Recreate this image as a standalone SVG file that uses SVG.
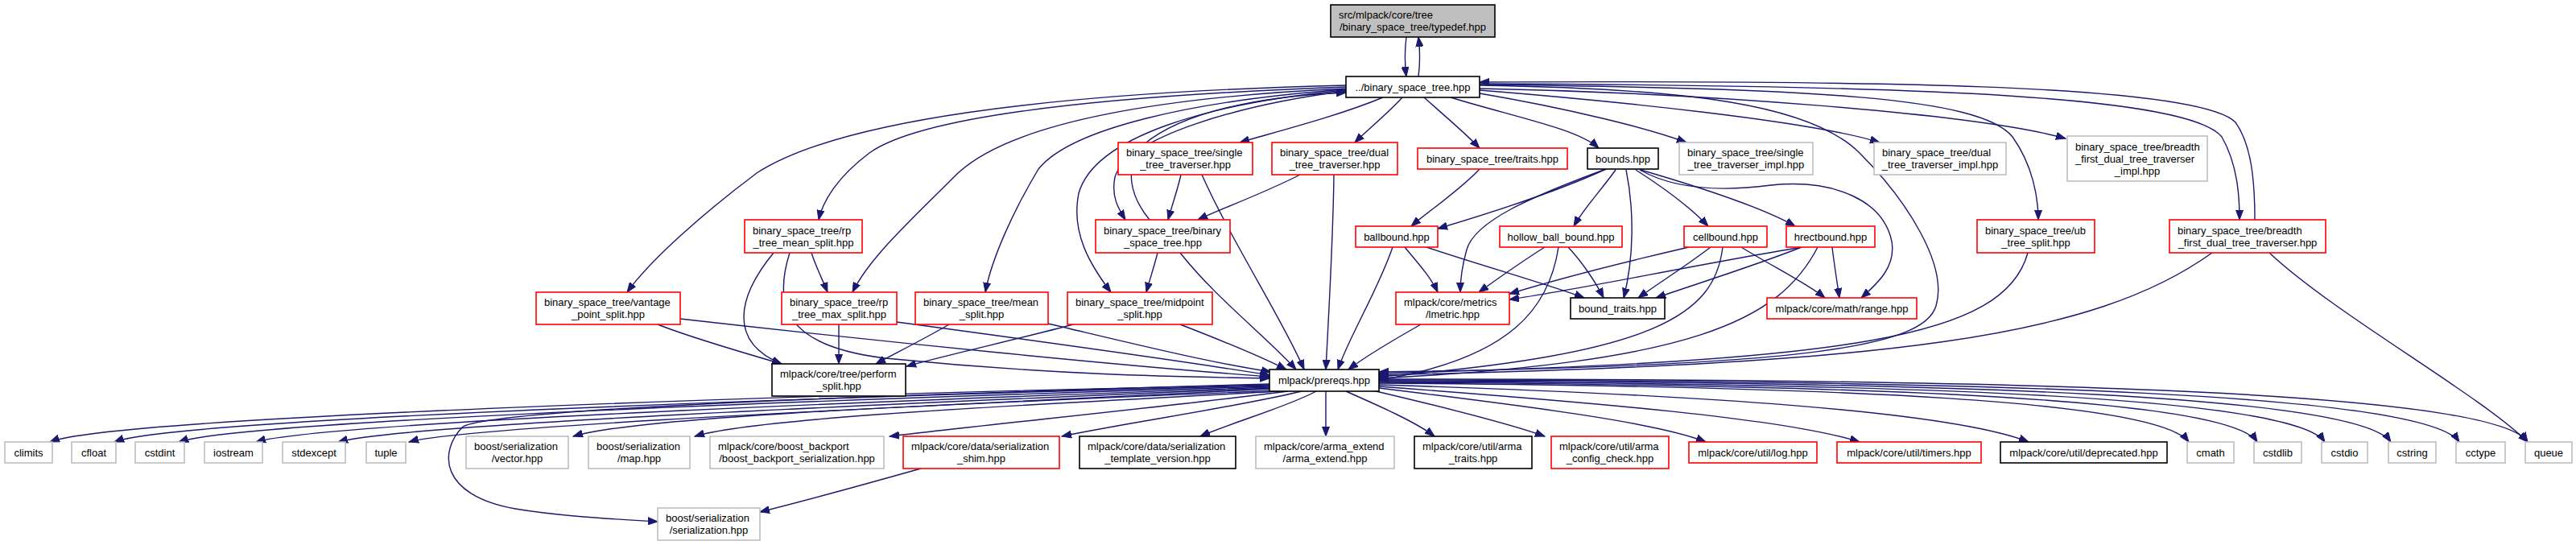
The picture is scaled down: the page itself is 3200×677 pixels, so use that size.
<svg xmlns="http://www.w3.org/2000/svg" width="3200" height="677" viewBox="0 0 3200 677">
<style>
rect{fill:#fff;stroke-width:1.6}
.r{stroke:#ff0000}.k{stroke:#000}.g{stroke:#bfbfbf}.root{fill:#bfbfbf;stroke:#000}
text{font-family:"Liberation Sans",Arial,sans-serif;font-size:13px;fill:#000}
.m{text-anchor:middle}
#edges path{fill:none;stroke:#191970;stroke-width:1.4;marker-end:url(#ah)}
</style>
<defs><marker id="ah" markerUnits="userSpaceOnUse" markerWidth="14" markerHeight="10" refX="12" refY="5" orient="auto"><path d="M0,0.5 L12,5 L0,9.5 z" fill="#191970" stroke="#191970" stroke-width="1"/></marker></defs>
<rect x="0" y="0" width="3200" height="677" style="fill:#fff;stroke:none"/>
<g id="edges">
<path d="M1747,46 C1745,62 1745,80 1747,95"/>
<path d="M1762,95 C1764,80 1764,62 1762,46"/>
<path d="M1718,121 C1660,145 1580,165 1540,177"/>
<path d="M1742,121 C1725,140 1700,160 1683,177"/>
<path d="M1769,121 C1790,140 1820,165 1838,184"/>
<path d="M1802,121 C1880,145 1960,160 1986,184"/>
<path d="M1838,116 C1950,135 2050,160 2095,177"/>
<path d="M1838,112 C2000,125 2250,150 2335,177"/>
<path d="M1838,110 C2100,115 2450,140 2566,172"/>
<path d="M1672,106 C1300,115 1040,150 940,215 C880,260 810,320 779,363"/>
<path d="M1672,108 C1400,118 1150,140 1080,190 C1040,220 1022,250 1017,273"/>
<path d="M1672,110 C1450,120 1260,150 1190,215 C1130,275 1080,320 1059,363"/>
<path d="M1672,111 C1480,125 1330,160 1290,210 C1260,260 1232,320 1224,363"/>
<path d="M1672,112 C1500,128 1360,170 1340,240 C1330,290 1355,330 1380,363"/>
<path d="M1672,113 C1540,130 1400,170 1385,220 C1380,245 1390,260 1398,273"/>
<path d="M1428,273 C1405,245 1395,210 1420,180 C1480,130 1600,118 1672,115"/>
<path d="M1467,217 C1463,235 1456,255 1451,273"/>
<path d="M1493,217 C1530,300 1595,400 1620,459"/>
<path d="M1615,217 C1570,240 1520,258 1488,273"/>
<path d="M1657,217 C1656,300 1650,400 1647,459"/>
<path d="M1438,314 C1434,330 1428,348 1424,363"/>
<path d="M1466,314 C1510,370 1575,420 1610,459"/>
<path d="M1838,210 C1815,235 1775,262 1753,281"/>
<path d="M1730,307 C1712,360 1675,420 1662,459"/>
<path d="M1745,307 C1760,325 1778,345 1786,363"/>
<path d="M1772,307 C1840,330 1920,352 1968,370"/>
<path d="M1919,307 C1890,325 1858,348 1837,363"/>
<path d="M1948,307 C1965,325 1982,350 1992,370"/>
<path d="M1936,307 C1925,380 1880,445 1713,472"/>
<path d="M1765,403 C1735,420 1700,440 1675,459"/>
<path d="M1995,210 C1930,240 1850,265 1786,284"/>
<path d="M1995,210 C1900,245 1832,275 1822,310 C1815,335 1814,350 1814,363"/>
<path d="M2007,211 C1990,235 1968,258 1955,281"/>
<path d="M2020,211 C2030,260 2030,320 2017,370"/>
<path d="M2032,211 C2065,232 2100,258 2122,281"/>
<path d="M2038,211 C2110,232 2190,258 2230,281"/>
<path d="M2037,211 C2080,235 2140,238 2200,230 C2280,222 2340,250 2350,300 C2355,330 2335,350 2312,370"/>
<path d="M2098,307 C2020,325 1940,345 1875,365"/>
<path d="M2125,307 C2095,330 2060,352 2035,370"/>
<path d="M2140,307 C2130,390 2060,440 1713,468"/>
<path d="M2163,307 C2200,330 2245,352 2267,370"/>
<path d="M2238,307 C2100,330 1960,360 1875,372"/>
<path d="M2238,307 C2180,330 2100,355 2057,370"/>
<path d="M2276,307 C2278,325 2282,350 2285,370"/>
<path d="M2258,307 C2210,400 2100,450 1713,470"/>
<path d="M2519,314 C2490,420 2300,448 1713,464"/>
<path d="M2748,314 C2600,420 2350,452 1713,466"/>
<path d="M2819,314 C2900,390 3080,490 3140,549"/>
<path d="M1838,106 C2100,110 2250,130 2310,190 C2370,250 2420,330 2405,380 C2390,430 2250,455 1713,462"/>
<path d="M1838,105 C2250,110 2460,120 2500,170 C2525,205 2532,245 2532,273"/>
<path d="M1838,104 C2400,106 2720,120 2760,170 C2780,205 2782,245 2782,273"/>
<path d="M2801,273 C2801,225 2797,180 2777,152 C2730,103 2300,100 1838,102"/>
<path d="M1008,314 C1013,330 1022,348 1028,363"/>
<path d="M961,314 C915,370 905,425 971,452"/>
<path d="M981,314 C960,380 975,430 1100,445 C1300,465 1450,468 1577,470"/>
<path d="M817,403 C860,420 930,440 971,452"/>
<path d="M845,396 C1100,425 1400,455 1577,468"/>
<path d="M1042,403 L1042,452"/>
<path d="M1114,400 C1300,425 1480,450 1577,466"/>
<path d="M1179,403 C1150,420 1110,440 1088,452"/>
<path d="M1302,402 C1400,425 1500,450 1579,462"/>
<path d="M1333,403 C1270,420 1180,440 1126,455"/>
<path d="M1466,403 C1510,420 1570,445 1598,459"/>
<path d="M1577,478 C1000,490 140,518 62,549"/>
<path d="M1577,479 C1050,492 220,520 142,549"/>
<path d="M1577,480 C1100,494 300,522 222,549"/>
<path d="M1578,481 C1150,496 400,524 318,549"/>
<path d="M1579,482 C1200,498 500,526 420,549"/>
<path d="M1580,483 C1250,500 580,528 508,549"/>
<path d="M1585,485 C1250,500 800,515 712,542"/>
<path d="M1590,486 C1300,502 940,518 863,542"/>
<path d="M1600,486 C1450,505 1250,525 1105,542"/>
<path d="M1577,477 C1200,488 620,505 575,530 C545,560 545,615 640,632 C700,642 770,645 817,648"/>
<path d="M1617,486 C1540,505 1400,525 1319,542"/>
<path d="M1635,486 C1600,505 1530,525 1491,542"/>
<path d="M1647,486 L1647,542"/>
<path d="M1672,486 C1715,505 1760,525 1782,542"/>
<path d="M1705,485 C1790,505 1880,528 1919,542"/>
<path d="M1713,482 C1900,505 2060,525 2119,549"/>
<path d="M1713,480 C1980,500 2220,520 2310,549"/>
<path d="M1713,478 C2100,490 2420,510 2520,549"/>
<path d="M1713,476 C2300,480 2680,498 2719,549"/>
<path d="M1713,475 C2350,478 2770,496 2804,549"/>
<path d="M1713,474 C2400,476 2850,494 2888,549"/>
<path d="M1713,473 C2450,474 2930,492 2970,549"/>
<path d="M1713,472 C2500,472 3015,490 3055,549"/>
<path d="M1713,471 C2550,470 3100,488 3140,549"/>
<path d="M1144,582 C1080,600 1000,622 944,636"/>
</g>
<g id="n_root"><rect class="root" x="1653" y="6" width="204" height="40"/><text x="1663" y="23">src/mlpack/core/tree</text><text class="m" x="1755" y="38">/binary_space_tree/typedef.hpp</text></g>
<g id="n_bst"><rect class="k" x="1672" y="95" width="166" height="26"/><text class="m" x="1755" y="112.5">../binary_space_tree.hpp</text></g>
<g id="n_single"><rect class="r" x="1389" y="177" width="167" height="40"/><text x="1399" y="194">binary_space_tree/single</text><text class="m" x="1472.5" y="209">_tree_traverser.hpp</text></g>
<g id="n_dual"><rect class="r" x="1580" y="177" width="156" height="40"/><text x="1590" y="194">binary_space_tree/dual</text><text class="m" x="1658" y="209">_tree_traverser.hpp</text></g>
<g id="n_traits"><rect class="r" x="1761" y="184" width="186" height="26"/><text class="m" x="1854" y="201.5">binary_space_tree/traits.hpp</text></g>
<g id="n_bounds"><rect class="k" x="1972" y="184" width="88" height="26"/><text class="m" x="2016" y="201.5">bounds.hpp</text></g>
<g id="n_single_impl"><rect class="g" x="2086" y="177" width="166" height="40"/><text x="2096" y="194">binary_space_tree/single</text><text class="m" x="2169" y="209">_tree_traverser_impl.hpp</text></g>
<g id="n_dual_impl"><rect class="g" x="2328" y="177" width="164" height="40"/><text x="2338" y="194">binary_space_tree/dual</text><text class="m" x="2410" y="209">_tree_traverser_impl.hpp</text></g>
<g id="n_bf_impl"><rect class="g" x="2568" y="169" width="174" height="56"/><text x="2578" y="186.5">binary_space_tree/breadth</text><text x="2578" y="201.5">_first_dual_tree_traverser</text><text class="m" x="2655" y="216.5">_impl.hpp</text></g>
<g id="n_rpmean"><rect class="r" x="925" y="273" width="146" height="41"/><text x="935" y="290.5">binary_space_tree/rp</text><text class="m" x="998" y="305.5">_tree_mean_split.hpp</text></g>
<g id="n_bstbst"><rect class="r" x="1361" y="273" width="167" height="41"/><text x="1371" y="290.5">binary_space_tree/binary</text><text class="m" x="1444.5" y="305.5">_space_tree.hpp</text></g>
<g id="n_ballbound"><rect class="r" x="1684" y="281" width="102" height="26"/><text class="m" x="1735" y="298.5">ballbound.hpp</text></g>
<g id="n_hollow"><rect class="r" x="1863" y="281" width="152" height="26"/><text class="m" x="1939" y="298.5">hollow_ball_bound.hpp</text></g>
<g id="n_cellbound"><rect class="r" x="2092" y="281" width="103" height="26"/><text class="m" x="2143.5" y="298.5">cellbound.hpp</text></g>
<g id="n_hrect"><rect class="r" x="2219" y="281" width="110" height="26"/><text class="m" x="2274" y="298.5">hrectbound.hpp</text></g>
<g id="n_ub"><rect class="r" x="2456" y="273" width="146" height="41"/><text x="2466" y="290.5">binary_space_tree/ub</text><text class="m" x="2529" y="305.5">_tree_split.hpp</text></g>
<g id="n_bf"><rect class="r" x="2695" y="273" width="194" height="41"/><text x="2705" y="290.5">binary_space_tree/breadth</text><text class="m" x="2792" y="305.5">_first_dual_tree_traverser.hpp</text></g>
<g id="n_vantage"><rect class="r" x="666" y="363" width="179" height="40"/><text x="676" y="380">binary_space_tree/vantage</text><text class="m" x="755.5" y="395">_point_split.hpp</text></g>
<g id="n_rpmax"><rect class="r" x="971" y="363" width="143" height="40"/><text x="981" y="380">binary_space_tree/rp</text><text class="m" x="1042.5" y="395">_tree_max_split.hpp</text></g>
<g id="n_mean"><rect class="r" x="1137" y="363" width="165" height="40"/><text x="1147" y="380">binary_space_tree/mean</text><text class="m" x="1219.5" y="395">_split.hpp</text></g>
<g id="n_midpoint"><rect class="r" x="1326" y="363" width="180" height="40"/><text x="1336" y="380">binary_space_tree/midpoint</text><text class="m" x="1416" y="395">_split.hpp</text></g>
<g id="n_lmetric"><rect class="r" x="1734" y="363" width="141" height="40"/><text x="1744" y="380">mlpack/core/metrics</text><text class="m" x="1804.5" y="395">/lmetric.hpp</text></g>
<g id="n_boundtraits"><rect class="k" x="1951" y="370" width="117" height="26"/><text class="m" x="2009.5" y="387.5">bound_traits.hpp</text></g>
<g id="n_range"><rect class="r" x="2195" y="370" width="186" height="26"/><text class="m" x="2288" y="387.5">mlpack/core/math/range.hpp</text></g>
<g id="n_perform"><rect class="k" x="959" y="452" width="166" height="40"/><text x="969" y="469">mlpack/core/tree/perform</text><text class="m" x="1042" y="484">_split.hpp</text></g>
<g id="n_prereqs"><rect class="k" x="1577" y="459" width="136" height="27"/><text class="m" x="1645" y="477">mlpack/prereqs.hpp</text></g>
<g id="n_climits"><rect class="g" x="6" y="549" width="59" height="26"/><text class="m" x="35.5" y="566.5">climits</text></g>
<g id="n_cfloat"><rect class="g" x="89" y="549" width="55" height="26"/><text class="m" x="116.5" y="566.5">cfloat</text></g>
<g id="n_cstdint"><rect class="g" x="168" y="549" width="61" height="26"/><text class="m" x="198.5" y="566.5">cstdint</text></g>
<g id="n_iostream"><rect class="g" x="254" y="549" width="72" height="26"/><text class="m" x="290" y="566.5">iostream</text></g>
<g id="n_stdexcept"><rect class="g" x="351" y="549" width="78" height="26"/><text class="m" x="390" y="566.5">stdexcept</text></g>
<g id="n_tuple"><rect class="g" x="455" y="549" width="49" height="26"/><text class="m" x="479.5" y="566.5">tuple</text></g>
<g id="n_vector"><rect class="g" x="579" y="542" width="127" height="40"/><text x="589" y="559">boost/serialization</text><text class="m" x="642.5" y="574">/vector.hpp</text></g>
<g id="n_map"><rect class="g" x="731" y="542" width="126" height="40"/><text x="741" y="559">boost/serialization</text><text class="m" x="794" y="574">/map.hpp</text></g>
<g id="n_backport"><rect class="g" x="882" y="542" width="216" height="40"/><text x="892" y="559">mlpack/core/boost_backport</text><text class="m" x="990" y="574">/boost_backport_serialization.hpp</text></g>
<g id="n_shim"><rect class="r" x="1122" y="542" width="194" height="40"/><text x="1132" y="559">mlpack/core/data/serialization</text><text class="m" x="1219" y="574">_shim.hpp</text></g>
<g id="n_template"><rect class="k" x="1341" y="542" width="194" height="40"/><text x="1351" y="559">mlpack/core/data/serialization</text><text class="m" x="1438" y="574">_template_version.hpp</text></g>
<g id="n_arma_extend"><rect class="g" x="1560" y="542" width="172" height="40"/><text x="1570" y="559">mlpack/core/arma_extend</text><text class="m" x="1646" y="574">/arma_extend.hpp</text></g>
<g id="n_arma_traits"><rect class="k" x="1757" y="542" width="146" height="40"/><text x="1767" y="559">mlpack/core/util/arma</text><text class="m" x="1830" y="574">_traits.hpp</text></g>
<g id="n_arma_config"><rect class="r" x="1927" y="542" width="146" height="40"/><text x="1937" y="559">mlpack/core/util/arma</text><text class="m" x="2000" y="574">_config_check.hpp</text></g>
<g id="n_log"><rect class="r" x="2098" y="549" width="159" height="26"/><text class="m" x="2177.5" y="566.5">mlpack/core/util/log.hpp</text></g>
<g id="n_timers"><rect class="r" x="2282" y="549" width="179" height="26"/><text class="m" x="2371.5" y="566.5">mlpack/core/util/timers.hpp</text></g>
<g id="n_deprecated"><rect class="k" x="2485" y="549" width="207" height="26"/><text class="m" x="2588.5" y="566.5">mlpack/core/util/deprecated.hpp</text></g>
<g id="n_cmath"><rect class="g" x="2717" y="549" width="58" height="26"/><text class="m" x="2746" y="566.5">cmath</text></g>
<g id="n_cstdlib"><rect class="g" x="2800" y="549" width="59" height="26"/><text class="m" x="2829.5" y="566.5">cstdlib</text></g>
<g id="n_cstdio"><rect class="g" x="2884" y="549" width="57" height="26"/><text class="m" x="2912.5" y="566.5">cstdio</text></g>
<g id="n_cstring"><rect class="g" x="2967" y="549" width="59" height="26"/><text class="m" x="2996.5" y="566.5">cstring</text></g>
<g id="n_cctype"><rect class="g" x="3051" y="549" width="61" height="26"/><text class="m" x="3081.5" y="566.5">cctype</text></g>
<g id="n_queue"><rect class="g" x="3137" y="549" width="58" height="26"/><text class="m" x="3166" y="566.5">queue</text></g>
<g id="n_serialization"><rect class="g" x="817" y="631" width="127" height="40"/><text x="827" y="648">boost/serialization</text><text class="m" x="880.5" y="663">/serialization.hpp</text></g>
</svg>
